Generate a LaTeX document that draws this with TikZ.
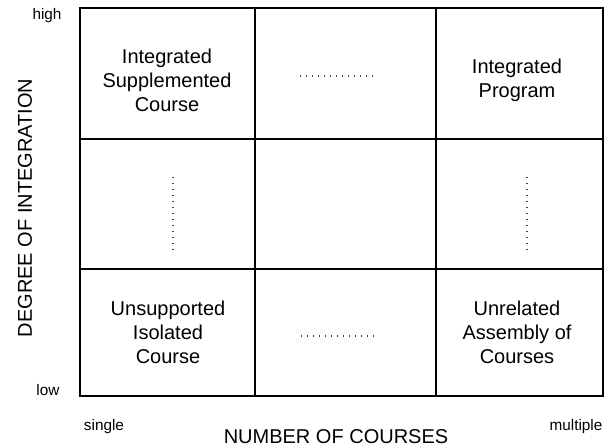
\documentclass[tikz,border=0pt]{standalone}
\usepackage{fontspec}
\setmainfont{Liberation Sans}

\tikzset{
  cell/.style={align=center, font=\fontsize{15}{18}\selectfont},
  tick/.style={font=\fontsize{11.5}{13}\selectfont},
  axis/.style={font=\fontsize{15}{18}\selectfont},
  dots/.style={line width=1.1pt, dash pattern=on 1.1pt off 3.4pt, black!75},
}

\begin{document}
\begin{tikzpicture}[x=0.75pt, y=0.75pt]
  \useasboundingbox (0, 0) rectangle (605, 448);

  % grid
  \draw [line width=1.3pt] (80, 52) rectangle (603, 440);
  \draw [line width=1.3pt] (255, 52) -- (255, 440);
  \draw [line width=1.3pt] (436, 52) -- (436, 440);
  \draw [line width=1.3pt] (80, 309) -- (603, 309);
  \draw [line width=1.3pt] (80, 179) -- (603, 179);

  % cells
  \node [cell] (isc) at (167, 368) {Integrated\\Supplemented\\Course};
  \node [cell] (ip) at (517, 368) {Integrated\\Program};
  \node [cell] (uic) at (168, 116) {Unsupported\\Isolated\\Course};
  \node [cell] (uac) at (517, 116) {Unrelated\\Assembly of\\Courses};

  \coordinate (topa) at (300, 372);
  \coordinate (topb) at (377, 372);
  \coordinate (bota) at (301, 112);
  \coordinate (botb) at (378, 112);
  \coordinate (lefta) at (173, 271);
  \coordinate (leftb) at (173, 195);
  \coordinate (righta) at (527, 271);
  \coordinate (rightb) at (527, 197);
  \draw [dots] (topa) -- (topb);
  \draw [dots] (bota) -- (botb);
  \draw [dots] (lefta) -- (leftb);
  \draw [dots] (righta) -- (rightb);

  % axes
  \node [tick] (high) at (47, 432) {high};
  \node [tick] (low) at (48, 58) {low};
  \node [tick] (single) at (104, 21) {single};
  \node [tick] (multiple) at (576, 21) {multiple};
  \node [axis] (ncourses) at (336, 11) {NUMBER OF COURSES};
  \node [axis, rotate=90] (dintegr) at (25, 240) {DEGREE OF INTEGRATION};
\end{tikzpicture}
\end{document}
